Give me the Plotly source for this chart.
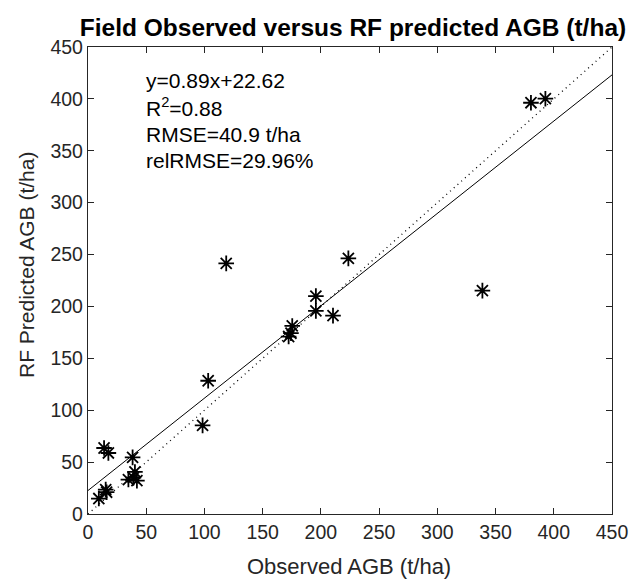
import plotly.graph_objects as go

observed = [9.3, 15.2, 16.0, 13.8, 17.5, 38.3, 40.3, 34.7, 42.0, 39.0, 98.4, 103.2,
            118.7, 172.3, 174.3, 175.4, 195.7, 195.7, 210.4, 223.6, 338.7, 380.4, 392.8]
predicted = [14.9, 23.5, 21.0, 63.6, 58.8, 54.6, 40.5, 33.2, 32.2, 35.0, 85.4, 128.4,
             241.5, 171.0, 174.2, 181.2, 210.0, 195.7, 191.2, 246.3, 215.2, 396.3, 400.2]
fit_slope = 0.89
fit_intercept = 22.62
line_x = [0, 450]
stats_text = ["y=0.89x+22.62", "R<sup>2</sup>=0.88", "RMSE=40.9 t/ha", "relRMSE=29.96%"]
stats_y = [418, 392.5, 366, 340.5]
tick_vals = [0, 50, 100, 150, 200, 250, 300, 350, 400, 450]

font = "Liberation Sans, Arial, sans-serif"

# The page body has an 8px default margin, so the figure is sized/offset to compensate.
W, H = 632, 571
L, R, T, B = 80, 20, 38.5, 64.5
PW, PH = W - L - R, H - T - B


def px_to_paper_x(page_x):
    return (page_x - 8 - L) / PW


def px_to_paper_y(page_y):
    return 1 - (page_y - 8 - T) / PH


fig = go.Figure()
fig.add_trace(go.Scatter(x=line_x, y=line_x, mode="lines",
                         line=dict(color="black", width=1.3, dash="1px,4px"), showlegend=False))
fig.add_trace(go.Scatter(x=line_x, y=[fit_slope * v + fit_intercept for v in line_x], mode="lines",
                         line=dict(color="black", width=1), showlegend=False))
fig.add_trace(go.Scatter(x=observed, y=predicted, mode="markers",
                         marker=dict(symbol="asterisk-open", size=13, color="black",
                                     line=dict(color="black", width=1.8)),
                         showlegend=False))

for txt, yy in zip(stats_text, stats_y):
    fig.add_annotation(x=48.5, y=yy, xref="x", yref="y", xanchor="left", yanchor="middle",
                       text=txt, showarrow=False, align="left",
                       font=dict(family=font, size=21, color="black"))

# axis titles
fig.add_annotation(x=px_to_paper_x(353), y=px_to_paper_y(567), xref="paper", yref="paper",
                   xanchor="center", yanchor="middle", text="Observed AGB (t/ha)",
                   showarrow=False, font=dict(family=font, size=22, color="#262626"))
fig.add_annotation(x=px_to_paper_x(25), y=px_to_paper_y(265), xref="paper", yref="paper",
                   xanchor="center", yanchor="middle", text="RF Predicted AGB (t/ha)",
                   textangle=-90, showarrow=False,
                   font=dict(family=font, size=21, color="#262626"))

axis_common = dict(range=[0, 450], tickvals=tick_vals, ticks="inside", ticklen=6,
                   tickcolor="#262626", tickwidth=1.3, showline=True, linecolor="#262626",
                   linewidth=1.3, mirror="ticks", showgrid=False, zeroline=False,
                   tickfont=dict(family=font, size=19.5, color="#262626"))

fig.update_layout(
    width=W, height=H,
    margin=dict(l=L, r=R, t=T, b=B),
    plot_bgcolor="white", paper_bgcolor="white",
    title=dict(text="<b>Field Observed versus RF predicted AGB (t/ha)</b>",
               x=345 / W, xanchor="center", xref="container",
               y=1 - 19 / H, yanchor="middle", yref="container",
               font=dict(family=font, size=24.5, color="black")),
    xaxis=axis_common,
    yaxis=axis_common,
)

fig.write_html("out.html")
